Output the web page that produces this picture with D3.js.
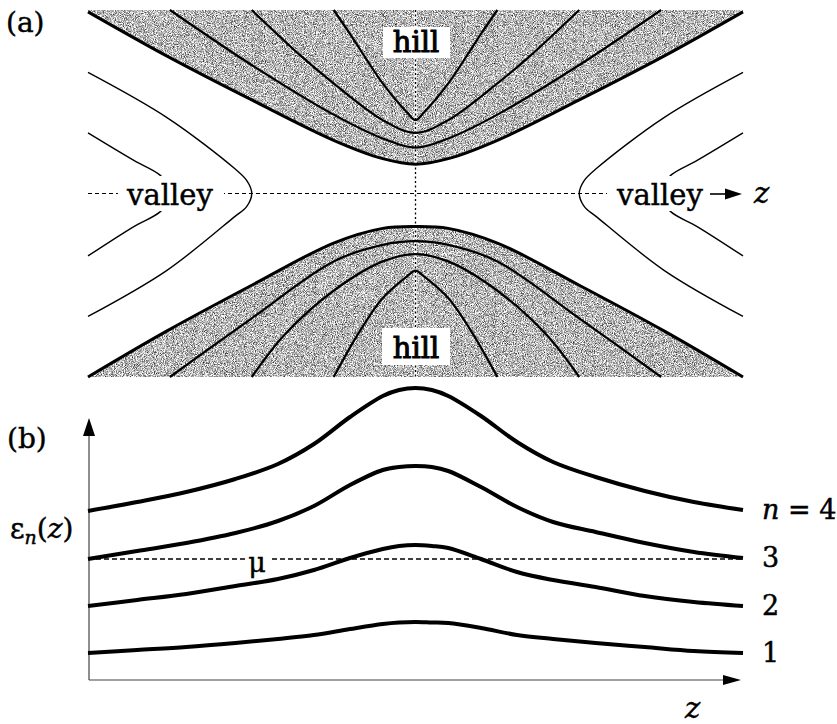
<!DOCTYPE html>
<html lang="en">
<head>
<meta charset="UTF-8">
<title>Saddle potential and subbands</title>
<script src="https://d3js.org/d3.v7.min.js"></script>
<style>
  body { margin: 0; background: #fff; }
  svg { display: block; }
  text { font-family: "DejaVu Serif", serif; fill: #000; stroke: #000; stroke-width: 0.45px; }
</style>
</head>
<body>
<div id="chart"></div>
<script>
// panel (a): contour lines as [z, y] points, both axes run -1..1
// first curve of each hill is the edge of the shaded area
const hillTop = [
  [[-1, 0.99], [-0.76, 0.75], [-0.5, 0.51], [-0.25, 0.29], [-0.1, 0.19], [0, 0.16], [0.1, 0.19], [0.25, 0.29], [0.5, 0.51], [0.76, 0.75], [1, 0.99]],
  [[-0.75, 1], [-0.5, 0.70], [-0.25, 0.43], [-0.1, 0.30], [0, 0.25], [0.1, 0.30], [0.25, 0.43], [0.5, 0.70], [0.75, 1]],
  [[-0.5, 1], [-0.35, 0.75], [-0.25, 0.60], [-0.1, 0.40], [0, 0.33], [0.1, 0.40], [0.25, 0.60], [0.35, 0.75], [0.5, 1]],
  [[-0.25, 1], [-0.2, 0.87], [-0.1, 0.60], [-0.025, 0.44], [0, 0.40], [0.025, 0.44], [0.1, 0.60], [0.2, 0.87], [0.25, 1]]
];
const hillBottom = [
  [[-1, -1], [-0.76, -0.75], [-0.5, -0.50], [-0.25, -0.27], [-0.1, -0.19], [0, -0.18], [0.1, -0.19], [0.25, -0.27], [0.5, -0.50], [0.76, -0.75], [1, -1]],
  [[-0.75, -1], [-0.5, -0.68], [-0.25, -0.37], [-0.1, -0.28], [0, -0.26], [0.1, -0.28], [0.25, -0.37], [0.5, -0.68], [0.75, -1]],
  [[-0.5, -1], [-0.4, -0.77], [-0.25, -0.53], [-0.1, -0.37], [0, -0.33], [0.1, -0.37], [0.25, -0.53], [0.4, -0.77], [0.5, -1]],
  [[-0.25, -1], [-0.17, -0.75], [-0.1, -0.57], [-0.025, -0.45], [0, -0.42], [0.025, -0.45], [0.1, -0.57], [0.17, -0.75], [0.25, -1]]
];
const valleys = [
  [[-1, 0.66], [-0.76, 0.415], [-0.555, 0.14], [-0.515, 0.07], [-0.5, 0], [-0.515, -0.07], [-0.555, -0.13], [-0.76, -0.42], [-1, -0.67]],
  [[-1, 0.33], [-0.86, 0.18], [-0.78, 0.10], [-0.735, 0], [-0.78, -0.10], [-0.86, -0.18], [-1, -0.34]],
  [[1, 0.66], [0.76, 0.415], [0.555, 0.14], [0.515, 0.07], [0.5, 0], [0.515, -0.07], [0.555, -0.13], [0.76, -0.42], [1, -0.67]],
  [[1, 0.33], [0.86, 0.18], [0.78, 0.10], [0.735, 0], [0.78, -0.10], [0.86, -0.18], [1, -0.34]]
];

// panel (b): subband energies at these z
const zb = [-1, -0.85, -0.7, -0.55, -0.42, -0.31, -0.2, -0.1, -0.05, 0, 0.05, 0.1, 0.2, 0.31, 0.42, 0.55, 0.7, 0.85, 1];
const eps1 = [0.27, 0.30, 0.33, 0.37, 0.41, 0.45, 0.51, 0.56, 0.575, 0.58, 0.575, 0.57, 0.52, 0.45, 0.41, 0.37, 0.33, 0.29, 0.27];
const eps2 = [0.74, 0.80, 0.86, 0.94, 1.01, 1.10, 1.22, 1.31, 1.34, 1.35, 1.34, 1.32, 1.21, 1.08, 1.00, 0.93, 0.84, 0.78, 0.74];
const eps3 = [1.21, 1.29, 1.37, 1.47, 1.59, 1.74, 1.95, 2.10, 2.13, 2.14, 2.13, 2.09, 1.93, 1.73, 1.58, 1.48, 1.37, 1.28, 1.22];
const eps4 = [1.69, 1.78, 1.88, 2.01, 2.16, 2.36, 2.63, 2.84, 2.90, 2.92, 2.90, 2.84, 2.64, 2.38, 2.18, 2.03, 1.89, 1.78, 1.70];
const bands = [eps1, eps2, eps3, eps4];
const bandLabels = ["1", "2", "3", "4"];
const mu = 1.21;

const width = 837, height = 724;

const svg = d3.select("#chart").append("svg")
    .attr("width", width)
    .attr("height", height);

const x = d3.scaleLinear().domain([-1, 1]).range([88, 743]);
const ya = d3.scaleLinear().domain([-1, 1]).range([377, 10]);
const yb = d3.scaleLinear().domain([0, 2.62]).range([680, 418]);

// grainy grey like the printed halftone
const defs = svg.append("defs");
const grain = defs.append("filter").attr("id", "grain")
    .attr("x", 0).attr("y", 0).attr("width", 1).attr("height", 1)
    .attr("color-interpolation-filters", "sRGB");
grain.append("feTurbulence").attr("type", "fractalNoise")
    .attr("baseFrequency", 1.1).attr("numOctaves", 2).attr("seed", 4).attr("result", "noise");
grain.append("feColorMatrix").attr("in", "noise").attr("type", "matrix")
    .attr("values", "1.7 0 0 0 -0.13  1.7 0 0 0 -0.13  1.7 0 0 0 -0.13  0 0 0 0 1")
    .attr("result", "grey");
grain.append("feComposite").attr("in", "grey").attr("in2", "SourceAlpha").attr("operator", "in");

const smooth = d3.curveCatmullRom.alpha(0.5);
const contour = d3.line()
    .x(d => x(d[0]))
    .y(d => ya(d[1]))
    .curve(smooth);

const shade = svg.append("g").attr("filter", "url(#grain)");
shade.append("path")
    .attr("d", d3.area().x(d => x(d[0])).y0(ya(1)).y1(d => ya(d[1])).curve(smooth)(hillTop[0]))
    .attr("fill", "#999");
shade.append("path")
    .attr("d", d3.area().x(d => x(d[0])).y0(ya(-1)).y1(d => ya(d[1])).curve(smooth)(hillBottom[0]))
    .attr("fill", "#999");

// dashed axes of panel (a)
svg.append("line")
    .attr("x1", x(-1)).attr("x2", x(0.6))
    .attr("y1", ya(0)).attr("y2", ya(0))
    .attr("stroke", "#000").attr("stroke-width", 1)
    .attr("stroke-dasharray", "4,3");
svg.append("line")
    .attr("x1", x(0)).attr("x2", x(0))
    .attr("y1", ya(1)).attr("y2", ya(-1))
    .attr("stroke", "#fff").attr("stroke-width", 2.5);
svg.append("line")
    .attr("x1", x(0)).attr("x2", x(0))
    .attr("y1", ya(1)).attr("y2", ya(-1))
    .attr("stroke", "#000").attr("stroke-width", 1.3)
    .attr("stroke-dasharray", "2,2.5");

svg.append("g").selectAll("path")
    .data(hillTop.concat(hillBottom))
    .join("path")
    .attr("d", contour)
    .attr("fill", "none")
    .attr("stroke", "#000")
    .attr("stroke-width", (d, i) => i % 4 === 0 ? 3 : 2.2);

svg.append("g").selectAll("path")
    .data(valleys)
    .join("path")
    .attr("d", contour)
    .attr("fill", "none")
    .attr("stroke", "#000")
    .attr("stroke-width", 1.4);

// labels of panel (a) sit on white boxes
const boxes = [
  {t: "valley", cx: 170, y: 205, x0: 118, x1: 224, y0: 176, y1: 211, bold: false},
  {t: "valley", cx: 660, y: 205, x0: 607, x1: 708, y0: 176, y1: 211, bold: false},
  {t: "hill", cx: 416, y: 52, x0: 383, x1: 450, y0: 27, y1: 58, bold: true},
  {t: "hill", cx: 416, y: 358, x0: 382, x1: 450, y0: 328, y1: 365, bold: true}
];
boxes.forEach(b => {
  svg.append("rect")
      .attr("x", b.x0).attr("y", b.y0)
      .attr("width", b.x1 - b.x0).attr("height", b.y1 - b.y0)
      .attr("fill", "#fff");
  svg.append("text")
      .attr("x", b.cx).attr("y", b.y)
      .attr("text-anchor", "middle")
      .attr("font-size", 29)
      .style("stroke-width", b.bold ? "1px" : null)
      .text(b.t);
});

// arrow and z after the right valley label
svg.append("line")
    .attr("x1", 710).attr("x2", 728).attr("y1", 194).attr("y2", 194)
    .attr("stroke", "#000").attr("stroke-width", 1.6);
svg.append("path")
    .attr("d", "M742,194L725,188.5L725,199.5Z")
    .attr("fill", "#000");
svg.append("text").attr("x", 754).attr("y", 203)
    .attr("font-size", 29).attr("font-style", "italic").text("z");

svg.append("text").attr("x", 6).attr("y", 32).attr("font-size", 28).text("(a)");

// panel (b)
const axisColor = "#444";
svg.append("line")
    .attr("x1", x(-1) + 1).attr("x2", x(-1) + 1)
    .attr("y1", yb(0)).attr("y2", 432)
    .attr("stroke", axisColor).attr("stroke-width", 1.2);
svg.append("path")
    .attr("d", `M${x(-1) + 1},418L${x(-1) - 5},436L${x(-1) + 7},436Z`)
    .attr("fill", "#000");
svg.append("line")
    .attr("x1", x(-1) + 1).attr("x2", 726)
    .attr("y1", yb(0)).attr("y2", yb(0))
    .attr("stroke", axisColor).attr("stroke-width", 1.2);
svg.append("path")
    .attr("d", `M741,${yb(0)}L723,${yb(0) - 5}L723,${yb(0) + 5}Z`)
    .attr("fill", "#000");

svg.append("line")
    .attr("x1", x(-1)).attr("x2", x(1))
    .attr("y1", yb(mu)).attr("y2", yb(mu))
    .attr("stroke", "#000").attr("stroke-width", 1.4)
    .attr("stroke-dasharray", "5,3");
svg.append("rect")
    .attr("x", 245).attr("y", yb(mu) - 4).attr("width", 25).attr("height", 8)
    .attr("fill", "#fff");
svg.append("text").attr("x", 257).attr("y", 572)
    .attr("text-anchor", "middle").attr("font-size", 27).text("μ");

const band = d3.line()
    .x((d, i) => x(zb[i]))
    .y(d => yb(d))
    .curve(smooth);

svg.append("g").selectAll("path")
    .data(bands)
    .join("path")
    .attr("d", band)
    .attr("fill", "none")
    .attr("stroke", "#000")
    .attr("stroke-width", 4);

svg.append("g").selectAll("text")
    .data(bands)
    .join("text")
    .attr("x", 762)
    .attr("y", d => yb(d[d.length - 1]) + 9)
    .attr("font-size", 27)
    .each(function(d, i) {
      const t = d3.select(this);
      if (i === 3) {
        t.append("tspan").attr("font-style", "italic").text("n");
        t.append("tspan").text(" = " + bandLabels[i]);
      } else {
        t.text(bandLabels[i]);
      }
    });

const eps = svg.append("text").attr("x", 10).attr("y", 538).attr("font-size", 28);
eps.append("tspan").text("ε");
eps.append("tspan").attr("font-style", "italic").attr("font-size", 19).attr("dy", 6).text("n");
eps.append("tspan").attr("dy", -6).text("(");
eps.append("tspan").attr("font-style", "italic").text("z");
eps.append("tspan").text(")");

svg.append("text").attr("x", 7).attr("y", 448).attr("font-size", 28).text("(b)");
svg.append("text").attr("x", 685).attr("y", 718)
    .attr("font-size", 29).attr("font-style", "italic").text("z");
</script>
</body>
</html>
